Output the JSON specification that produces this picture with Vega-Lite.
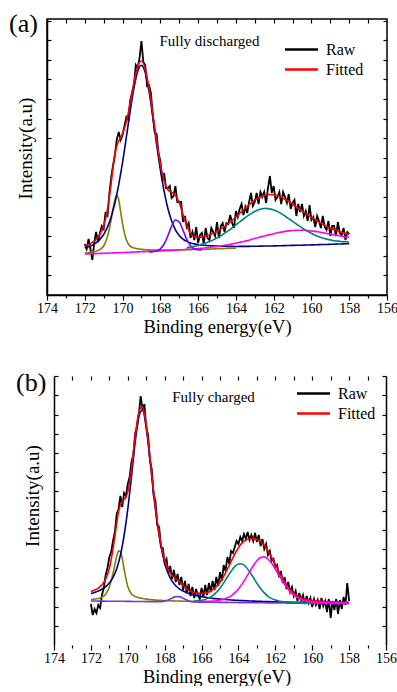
{
"$schema":"https://vega.github.io/schema/vega-lite/v6.json",
"padding":{"left":8,"top":10,"right":0,"bottom":0},
"spacing":32,
"resolve":{"scale":{"color":"independent","strokeWidth":"independent"}},
"config":{"font":"Liberation Serif","view":{"stroke":"black","strokeWidth":1.5},
"axis":{"domainColor":"black","domainWidth":1.5,"tickColor":"black","tickWidth":1.2,"labelColor":"black","titleColor":"black","labelFont":"Liberation Serif","titleFont":"Liberation Serif","titleFontWeight":"normal","grid":false},
"legend":{"labelFont":"Liberation Serif","labelColor":"black"},
"text":{"font":"Liberation Serif"}},
"datasets":{
"rawA":[{"E":172,"I":51},{"E":171.9,"I":46},{"E":171.8,"I":56},{"E":171.7,"I":46},{"E":171.6,"I":35},{"E":171.5,"I":52},{"E":171.4,"I":63},{"E":171.3,"I":53},{"E":171.2,"I":62},{"E":171.1,"I":69},
{"E":171,"I":66},{"E":170.9,"I":83},{"E":170.8,"I":78},{"E":170.7,"I":101},{"E":170.6,"I":118},{"E":170.5,"I":130},{"E":170.4,"I":141},{"E":170.3,"I":156},{"E":170.2,"I":163},{"E":170.1,"I":155},
{"E":170,"I":160},{"E":169.9,"I":169},{"E":169.8,"I":178},{"E":169.7,"I":175},{"E":169.6,"I":194},{"E":169.5,"I":202},{"E":169.4,"I":209},{"E":169.3,"I":230},{"E":169.2,"I":227},{"E":169.1,"I":237},
{"E":169,"I":254},{"E":168.9,"I":233},{"E":168.8,"I":230},{"E":168.7,"I":209},{"E":168.6,"I":210},{"E":168.5,"I":202},{"E":168.4,"I":180},{"E":168.3,"I":163},{"E":168.2,"I":161},{"E":168.1,"I":142},
{"E":168,"I":134},{"E":167.9,"I":115},{"E":167.8,"I":122},{"E":167.7,"I":107},{"E":167.6,"I":107},{"E":167.5,"I":109},{"E":167.4,"I":97},{"E":167.3,"I":99},{"E":167.2,"I":109},{"E":167.1,"I":93},
{"E":167,"I":93},{"E":166.9,"I":93},{"E":166.8,"I":73},{"E":166.7,"I":79},{"E":166.6,"I":68},{"E":166.5,"I":72},{"E":166.4,"I":57},{"E":166.3,"I":63},{"E":166.2,"I":55},{"E":166.1,"I":68},
{"E":166,"I":52},{"E":165.9,"I":60},{"E":165.8,"I":62},{"E":165.7,"I":51},{"E":165.6,"I":67},{"E":165.5,"I":57},{"E":165.4,"I":55},{"E":165.3,"I":67},{"E":165.2,"I":63},{"E":165.1,"I":59},
{"E":165,"I":73},{"E":164.9,"I":57},{"E":164.8,"I":69},{"E":164.7,"I":72},{"E":164.6,"I":63},{"E":164.5,"I":72},{"E":164.4,"I":71},{"E":164.3,"I":80},{"E":164.2,"I":72},{"E":164.1,"I":67},
{"E":164,"I":84},{"E":163.9,"I":78},{"E":163.8,"I":86},{"E":163.7,"I":91},{"E":163.6,"I":80},{"E":163.5,"I":88},{"E":163.4,"I":82},{"E":163.3,"I":93},{"E":163.2,"I":102},{"E":163.1,"I":89},
{"E":163,"I":93},{"E":162.9,"I":102},{"E":162.8,"I":91},{"E":162.7,"I":103},{"E":162.6,"I":98},{"E":162.5,"I":103},{"E":162.4,"I":92},{"E":162.3,"I":107},{"E":162.2,"I":119},{"E":162.1,"I":102},
{"E":162,"I":109},{"E":161.9,"I":95},{"E":161.8,"I":98},{"E":161.7,"I":103},{"E":161.6,"I":91},{"E":161.5,"I":103},{"E":161.4,"I":98},{"E":161.3,"I":92},{"E":161.2,"I":101},{"E":161.1,"I":86},
{"E":161,"I":92},{"E":160.9,"I":95},{"E":160.8,"I":79},{"E":160.7,"I":91},{"E":160.6,"I":83},{"E":160.5,"I":91},{"E":160.4,"I":79},{"E":160.3,"I":84},{"E":160.2,"I":74},{"E":160.1,"I":90},
{"E":160,"I":75},{"E":159.9,"I":78},{"E":159.8,"I":68},{"E":159.7,"I":79},{"E":159.6,"I":74},{"E":159.5,"I":67},{"E":159.4,"I":79},{"E":159.3,"I":68},{"E":159.2,"I":65},{"E":159.1,"I":74},
{"E":159,"I":59},{"E":158.9,"I":69},{"E":158.8,"I":69},{"E":158.7,"I":59},{"E":158.6,"I":73},{"E":158.5,"I":62},{"E":158.4,"I":60},{"E":158.3,"I":67},{"E":158.2,"I":55},{"E":158.1,"I":63},
{"E":158,"I":61}],
"fitA":[
{"E":172,"ol":41.9,"nv":47.1,"mg":41.0,"Fitted":49.1},
{"E":171.8,"ol":42.3,"nv":48.2,"mg":41.1,"Fitted":50.5},
{"E":171.6,"ol":43.0,"nv":49.9,"mg":41.3,"Fitted":52.7},
{"E":171.4,"ol":43.8,"nv":52.2,"mg":41.4,"Fitted":55.8},
{"E":171.2,"ol":45.4,"nv":55.6,"mg":41.6,"Fitted":60.6},
{"E":171,"ol":49.0,"nv":60.5,"mg":41.7,"Fitted":69.0},
{"E":170.8,"ol":58.2,"nv":67.9,"mg":41.9,"Fitted":85.5},
{"E":170.6,"ol":75.7,"nv":78.3,"mg":42.0,"Fitted":112.0},
{"E":170.5,"ol":86.8,"nv":85.1,"mg":42.1,"Fitted":128.0},
{"E":170.4,"ol":95.8,"nv":92.3,"mg":42.1,"Fitted":141.0},
{"E":170.3,"ol":99.9,"nv":101.4,"mg":42.2,"Fitted":149.5},
{"E":170.2,"ol":95.0,"nv":110.6,"mg":42.3,"Fitted":154.0},
{"E":170.1,"ol":83.0,"nv":121.5,"mg":42.3,"Fitted":157.0},
{"E":170,"ol":71.1,"nv":132.6,"mg":42.4,"Fitted":161.5},
{"E":169.8,"ol":55.2,"nv":157.6,"mg":42.6,"Fitted":173.0},
{"E":169.6,"ol":48.9,"nv":183.4,"mg":42.7,"Fitted":191.2},
{"E":169.4,"ol":47.0,"nv":206.7,"mg":42.9,"Fitted":212.5},
{"E":169.2,"ol":46.2,"nv":223.6,"mg":43.1,"Fitted":228.5},
{"E":169,"ol":45.6,"nv":229.8,"mg":43.2,"Fitted":234.0},
{"E":168.8,"ol":45.3,"nv":222.5,"mg":43.4,"Fitted":226.3},
{"E":168.6,"ol":45.1,"nv":203.6,"vi":43.1,"mg":43.6,"Fitted":207.1},
{"E":168.4,"ol":45.0,"nv":178.2,"vi":43.4,"mg":43.8,"Fitted":181.6},
{"E":168.2,"ol":44.9,"nv":150.8,"vi":44.1,"mg":43.9,"Fitted":154.6},
{"E":168,"ol":44.9,"nv":125.3,"vi":46.2,"mg":44.1,"Fitted":131.0},
{"E":167.8,"ol":44.9,"nv":103.6,"vi":51.0,"mg":44.3,"Fitted":114.0},
{"E":167.6,"ol":44.9,"nv":86.5,"vi":59.3,"mg":44.4,"Fitted":105.3},
{"E":167.4,"ol":45.0,"nv":74.0,"vi":69.0,"mg":44.6,"Fitted":102.6},
{"E":167.2,"ol":45.0,"nv":65.2,"vi":75.0,"mg":44.8,"Fitted":99.8},
{"E":167,"ol":45.2,"nv":59.6,"vi":73.0,"mg":45.1,"Fitted":92.3},
{"E":166.8,"ol":45.2,"nv":55.9,"vi":64.8,"mg":45.3,"Fitted":80.5},
{"E":166.6,"ol":45.4,"nv":53.6,"vi":55.6,"te":47.4,"mg":45.6,"Fitted":69.2},
{"E":166.4,"ol":45.4,"nv":52.1,"vi":49.2,"te":47.9,"mg":45.8,"Fitted":61.6},
{"E":166.2,"ol":45.5,"nv":51.1,"vi":46.2,"te":48.7,"mg":46.1,"Fitted":58.4},
{"E":166,"ol":45.6,"nv":50.5,"vi":45.3,"te":49.6,"mg":46.5,"Fitted":57.5},
{"E":165.8,"ol":45.7,"nv":49.9,"vi":45.1,"te":50.7,"mg":46.8,"Fitted":57.8},
{"E":165.6,"ol":45.9,"nv":49.6,"te":52.0,"mg":47.2,"Fitted":58.8},
{"E":165.4,"ol":45.9,"nv":49.3,"te":53.4,"mg":47.6,"Fitted":60.0},
{"E":165.2,"ol":46.1,"nv":49.1,"te":55.1,"mg":48.1,"Fitted":61.6},
{"E":165,"ol":46.2,"nv":48.9,"te":57.1,"mg":48.6,"Fitted":63.7},
{"E":164.8,"ol":46.3,"nv":48.7,"te":59.2,"mg":49.1,"Fitted":65.9},
{"E":164.6,"ol":46.5,"nv":48.7,"te":61.7,"mg":49.7,"Fitted":68.6},
{"E":164.4,"ol":46.6,"nv":48.6,"te":64.3,"mg":50.3,"Fitted":71.5},
{"E":164.2,"ol":46.7,"nv":48.6,"te":67.2,"mg":51.1,"Fitted":74.7},
{"E":164,"ol":46.8,"nv":48.5,"te":70.1,"mg":51.8,"Fitted":78.0},
{"E":163.8,"nv":48.6,"te":73.1,"mg":52.7,"Fitted":81.6},
{"E":163.6,"nv":48.6,"te":76.0,"mg":53.5,"Fitted":85.1},
{"E":163.4,"nv":48.6,"te":78.8,"mg":54.4,"Fitted":88.6},
{"E":163.2,"nv":48.7,"te":81.4,"mg":55.4,"Fitted":91.9},
{"E":163,"nv":48.7,"te":83.5,"mg":56.4,"Fitted":94.8},
{"E":162.8,"nv":48.8,"te":85.2,"mg":57.4,"Fitted":97.2},
{"E":162.6,"nv":48.9,"te":86.2,"mg":58.4,"Fitted":99.1},
{"E":162.4,"nv":49.0,"te":86.6,"mg":59.4,"Fitted":100.2},
{"E":162.2,"nv":49.0,"te":86.1,"mg":60.4,"Fitted":100.5},
{"E":162,"nv":49.1,"te":85.1,"mg":61.2,"Fitted":100.2},
{"E":161.8,"nv":49.2,"te":83.6,"mg":62.2,"Fitted":99.4},
{"E":161.6,"nv":49.3,"te":81.4,"mg":62.9,"Fitted":97.7},
{"E":161.4,"nv":49.4,"te":79.0,"mg":63.6,"Fitted":95.7},
{"E":161.2,"nv":49.5,"te":76.3,"mg":64.1,"Fitted":93.4},
{"E":161,"nv":49.6,"te":73.7,"mg":64.5,"Fitted":90.9},
{"E":160.8,"nv":49.7,"te":71.0,"mg":64.7,"Fitted":88.3},
{"E":160.6,"nv":49.7,"te":68.3,"mg":64.7,"Fitted":85.4},
{"E":160.4,"nv":49.9,"te":65.9,"mg":64.7,"Fitted":82.8},
{"E":160.2,"nv":50.0,"te":63.6,"mg":64.4,"Fitted":80.1},
{"E":160,"nv":50.1,"te":61.7,"mg":64.1,"Fitted":77.6},
{"E":159.8,"nv":50.2,"te":59.8,"mg":63.6,"Fitted":75.1},
{"E":159.6,"nv":50.4,"te":58.3,"mg":63.0,"Fitted":72.8},
{"E":159.4,"nv":50.5,"te":57.0,"mg":62.4,"Fitted":70.8},
{"E":159.2,"nv":50.5,"te":55.9,"mg":61.6,"Fitted":68.7},
{"E":159,"nv":50.7,"te":55.1,"mg":61.0,"Fitted":67.1},
{"E":158.8,"nv":50.8,"te":54.3,"mg":60.2,"Fitted":65.4},
{"E":158.6,"nv":51.0,"te":53.9,"mg":59.6,"Fitted":64.2},
{"E":158.4,"nv":51.0,"te":53.4,"mg":58.8,"Fitted":62.7},
{"E":158.2,"nv":51.2,"te":53.2,"mg":58.2,"Fitted":61.7},
{"E":158,"nv":51.3,"te":53.0,"mg":57.5,"Fitted":60.7}],
"rawB":[{"E":172,"I":41},{"E":171.9,"I":30},{"E":171.8,"I":36},{"E":171.7,"I":32},{"E":171.6,"I":40},{"E":171.5,"I":37},{"E":171.4,"I":50},{"E":171.3,"I":57},{"E":171.2,"I":70},{"E":171.1,"I":77},
{"E":171,"I":88},{"E":170.9,"I":93},{"E":170.8,"I":104},{"E":170.7,"I":113},{"E":170.6,"I":131},{"E":170.5,"I":136},{"E":170.4,"I":149},{"E":170.3,"I":138},{"E":170.2,"I":152},{"E":170.1,"I":149},
{"E":170,"I":161},{"E":169.9,"I":168},{"E":169.8,"I":183},{"E":169.7,"I":190},{"E":169.6,"I":212},{"E":169.5,"I":218},{"E":169.4,"I":231},{"E":169.3,"I":249},{"E":169.2,"I":235},{"E":169.1,"I":241},
{"E":169,"I":218},{"E":168.9,"I":210},{"E":168.8,"I":185},{"E":168.7,"I":176},{"E":168.6,"I":150},{"E":168.5,"I":144},{"E":168.4,"I":120},{"E":168.3,"I":118},{"E":168.2,"I":98},{"E":168.1,"I":97},
{"E":168,"I":82},{"E":167.9,"I":86},{"E":167.8,"I":72},{"E":167.7,"I":79},{"E":167.6,"I":66},{"E":167.5,"I":75},{"E":167.4,"I":63},{"E":167.3,"I":71},{"E":167.2,"I":60},{"E":167.1,"I":68},
{"E":167,"I":55},{"E":166.9,"I":64},{"E":166.8,"I":52},{"E":166.7,"I":61},{"E":166.6,"I":49},{"E":166.5,"I":58},{"E":166.4,"I":47},{"E":166.3,"I":56},{"E":166.2,"I":50},{"E":166.1,"I":46},
{"E":166,"I":57},{"E":165.9,"I":48},{"E":165.8,"I":60},{"E":165.7,"I":50},{"E":165.6,"I":62},{"E":165.5,"I":53},{"E":165.4,"I":64},{"E":165.3,"I":55},{"E":165.2,"I":68},{"E":165.1,"I":59},
{"E":165,"I":73},{"E":164.9,"I":64},{"E":164.8,"I":80},{"E":164.7,"I":74},{"E":164.6,"I":88},{"E":164.5,"I":81},{"E":164.4,"I":94},{"E":164.3,"I":92},{"E":164.2,"I":98},{"E":164.1,"I":104},
{"E":164,"I":101},{"E":163.9,"I":108},{"E":163.8,"I":104},{"E":163.7,"I":111},{"E":163.6,"I":106},{"E":163.5,"I":113},{"E":163.4,"I":105},{"E":163.3,"I":110},{"E":163.2,"I":104},{"E":163.1,"I":112},
{"E":163,"I":103},{"E":162.9,"I":110},{"E":162.8,"I":99},{"E":162.7,"I":106},{"E":162.6,"I":96},{"E":162.5,"I":101},{"E":162.4,"I":90},{"E":162.3,"I":94},{"E":162.2,"I":84},{"E":162.1,"I":86},
{"E":162,"I":78},{"E":161.9,"I":80},{"E":161.8,"I":68},{"E":161.7,"I":74},{"E":161.6,"I":62},{"E":161.5,"I":68},{"E":161.4,"I":56},{"E":161.3,"I":63},{"E":161.2,"I":53},{"E":161.1,"I":58},
{"E":161,"I":49},{"E":160.9,"I":54},{"E":160.8,"I":44},{"E":160.7,"I":52},{"E":160.6,"I":45},{"E":160.5,"I":50},{"E":160.4,"I":41},{"E":160.3,"I":49},{"E":160.2,"I":42},{"E":160.1,"I":47},
{"E":160,"I":38},{"E":159.9,"I":46},{"E":159.8,"I":40},{"E":159.7,"I":45},{"E":159.6,"I":36},{"E":159.5,"I":47},{"E":159.4,"I":39},{"E":159.3,"I":44},{"E":159.2,"I":33},{"E":159.1,"I":46},
{"E":159,"I":27},{"E":158.9,"I":44},{"E":158.8,"I":35},{"E":158.7,"I":46},{"E":158.6,"I":31},{"E":158.5,"I":45},{"E":158.4,"I":36},{"E":158.3,"I":48},{"E":158.2,"I":40},{"E":158.1,"I":62},
{"E":158,"I":44}],
"fitB":[
{"E":172,"ol":45.5,"nv":51.5,"vi":44.0,"Fitted":53.5},
{"E":171.8,"ol":45.9,"nv":52.6,"vi":44.0,"Fitted":55.0},
{"E":171.6,"ol":46.4,"nv":53.9,"vi":43.9,"Fitted":56.9},
{"E":171.4,"ol":47.8,"nv":55.8,"vi":43.9,"Fitted":60.2},
{"E":171.2,"ol":50.8,"nv":58.3,"vi":43.8,"Fitted":65.8},
{"E":171,"ol":58.0,"nv":62.0,"vi":43.8,"Fitted":76.7},
{"E":170.8,"ol":71.7,"nv":67.7,"vi":43.8,"Fitted":96.1},
{"E":170.6,"ol":88.6,"nv":76.3,"vi":43.7,"Fitted":121.8},
{"E":170.5,"ol":93.9,"nv":82.5,"vi":43.7,"Fitted":133.3},
{"E":170.4,"ol":93.7,"nv":89.9,"vi":43.7,"Fitted":140.0},
{"E":170.3,"ol":86.5,"nv":98.9,"vi":43.7,"Fitted":143.0},
{"E":170.2,"ol":76.2,"nv":109.5,"vi":43.7,"Fitted":145.5},
{"E":170,"ol":58.6,"nv":135.8,"vi":43.6,"Fitted":153.0},
{"E":169.8,"ol":51.1,"nv":168.3,"vi":43.6,"Fitted":176.4},
{"E":169.6,"ol":48.5,"nv":202.3,"vi":43.5,"Fitted":207.9},
{"E":169.4,"ol":47.3,"nv":228.6,"vi":43.5,"Fitted":233.0},
{"E":169.2,"ol":46.5,"nv":234.7,"vi":43.5,"Fitted":238.3},
{"E":169,"ol":45.9,"nv":217.1,"vi":43.4,"Fitted":220.3},
{"E":168.8,"ol":45.5,"nv":185.4,"vi":43.4,"Fitted":188.2},
{"E":168.6,"ol":45.1,"nv":151.2,"vi":43.3,"Fitted":153.7},
{"E":168.4,"ol":44.8,"nv":121.4,"vi":43.3,"Fitted":123.6},
{"E":168.2,"ol":44.6,"nv":98.5,"vi":43.4,"Fitted":100.7},
{"E":168,"ol":44.4,"nv":82.0,"vi":43.9,"Fitted":84.7},
{"E":167.8,"ol":44.3,"nv":71.0,"vi":45.1,"Fitted":74.8},
{"E":167.6,"ol":44.1,"nv":63.9,"vi":46.8,"Fitted":69.5},
{"E":167.4,"ol":44.0,"nv":59.3,"vi":48.4,"Fitted":66.5},
{"E":167.2,"ol":44.0,"nv":56.2,"vi":48.4,"Fitted":63.4},
{"E":167,"ol":43.8,"nv":54.0,"vi":46.7,"Fitted":59.6},
{"E":166.8,"ol":43.8,"nv":52.3,"vi":44.9,"Fitted":56.2},
{"E":166.6,"ol":43.7,"nv":50.9,"vi":43.6,"Fitted":53.7},
{"E":166.4,"ol":43.6,"nv":49.9,"vi":43.0,"te":43.9,"Fitted":52.3},
{"E":166.2,"ol":43.5,"nv":49.1,"vi":42.9,"te":44.3,"Fitted":51.9},
{"E":166,"ol":43.4,"nv":48.3,"vi":42.8,"te":44.7,"mg":43.6,"Fitted":51.6},
{"E":165.8,"nv":47.7,"vi":42.8,"te":45.6,"mg":43.7,"Fitted":52.0},
{"E":165.6,"nv":47.2,"vi":42.8,"te":47.1,"mg":43.8,"Fitted":53.1},
{"E":165.4,"nv":46.6,"vi":42.7,"te":49.3,"mg":44.0,"Fitted":55.1},
{"E":165.2,"nv":46.3,"vi":42.7,"te":52.6,"mg":44.3,"Fitted":58.4},
{"E":165,"nv":45.9,"vi":42.6,"te":56.8,"mg":44.8,"Fitted":62.8},
{"E":164.8,"nv":45.6,"vi":42.6,"te":62.1,"mg":45.7,"Fitted":68.7},
{"E":164.6,"nv":45.3,"vi":42.6,"te":68.0,"mg":47.2,"Fitted":75.8},
{"E":164.4,"nv":45.0,"vi":42.5,"te":73.6,"mg":49.2,"Fitted":83.3},
{"E":164.2,"nv":44.8,"vi":42.5,"te":78.4,"mg":52.2,"Fitted":90.9},
{"E":164,"nv":44.6,"vi":42.4,"te":81.0,"mg":56.1,"Fitted":97.3},
{"E":163.8,"nv":44.4,"vi":42.4,"te":81.0,"mg":61.1,"Fitted":102.1},
{"E":163.6,"nv":44.3,"vi":42.4,"te":78.3,"mg":66.9,"Fitted":105.1},
{"E":163.4,"nv":44.0,"vi":42.3,"te":73.4,"mg":73.1,"Fitted":106.3},
{"E":163.2,"nv":43.9,"vi":42.3,"te":67.7,"mg":79.2,"Fitted":106.6},
{"E":163,"nv":43.8,"vi":42.3,"te":61.8,"mg":84.3,"Fitted":105.7},
{"E":162.8,"nv":43.6,"vi":42.2,"te":56.4,"mg":87.4,"Fitted":103.4},
{"E":162.6,"nv":43.5,"vi":42.2,"te":52.1,"mg":88.1,"Fitted":99.7},
{"E":162.4,"nv":43.4,"vi":42.1,"te":48.7,"mg":86.0,"Fitted":94.2},
{"E":162.2,"nv":43.3,"vi":42.1,"te":46.4,"mg":81.7,"Fitted":87.6},
{"E":162,"nv":43.2,"vi":42.1,"te":44.9,"mg":76.0,"Fitted":80.3},
{"E":161.8,"nv":43.1,"vi":42.0,"te":43.9,"mg":69.6,"Fitted":72.9},
{"E":161.6,"nv":43.0,"vi":42.0,"te":43.4,"mg":63.5,"Fitted":66.2},
{"E":161.4,"nv":42.9,"vi":41.9,"te":42.9,"mg":57.9,"Fitted":60.2},
{"E":161.2,"nv":42.8,"vi":41.9,"te":42.7,"mg":53.4,"Fitted":55.4},
{"E":161,"nv":42.8,"vi":41.9,"te":42.5,"mg":49.9,"Fitted":51.7},
{"E":160.8,"nv":42.6,"vi":41.8,"te":42.3,"mg":47.3,"Fitted":48.9},
{"E":160.6,"nv":42.6,"vi":41.8,"te":42.3,"mg":45.6,"Fitted":47.1},
{"E":160.4,"nv":42.6,"vi":41.8,"te":42.3,"mg":44.4,"Fitted":45.9},
{"E":160.2,"nv":42.4,"vi":41.7,"te":42.2,"mg":43.6,"Fitted":45.0},
{"E":160,"nv":42.4,"vi":41.7,"te":42.2,"mg":43.1,"Fitted":44.5},
{"E":159.8,"nv":42.3,"vi":41.6,"mg":42.8,"Fitted":44.1},
{"E":159.6,"nv":42.3,"vi":41.6,"mg":42.6,"Fitted":43.9},
{"E":159.4,"nv":42.1,"vi":41.5,"mg":42.4,"Fitted":43.6},
{"E":159.2,"nv":42.1,"vi":41.5,"mg":42.3,"Fitted":43.5},
{"E":159,"nv":42.1,"vi":41.5,"mg":42.3,"Fitted":43.4},
{"E":158.8,"nv":42.0,"vi":41.4,"mg":42.1,"Fitted":43.2},
{"E":158.6,"nv":41.9,"vi":41.4,"mg":42.1,"Fitted":43.1},
{"E":158.4,"nv":41.9,"vi":41.4,"mg":42.0,"Fitted":43.0},
{"E":158.2,"nv":41.8,"vi":41.3,"mg":41.9,"Fitted":42.9},
{"E":158,"nv":41.8,"vi":41.3,"mg":41.8,"Fitted":42.8}]
},
"vconcat":[
{
"width":340,"height":276,
"layer":[
{"data":{"name":"rawA"},"mark":{"type":"line","strokeWidth":1.8},
"encoding":{
"x":{"field":"E","type":"quantitative","scale":{"domain":[156,174],"reverse":true,"nice":false,"zero":false},
"axis":{"orient":"bottom","values":[156,158,160,162,164,166,168,170,172,174],"format":"d","tickSize":5,"labelFontSize":14,"labelPadding":1,"labelFlush":false,"labelOverlap":false,"title":"Binding energy(eV)","titleFontSize":18.5,"titlePadding":2}},
"y":{"field":"I","type":"quantitative","scale":{"domain":[0,276],"nice":false,"zero":false},
"axis":{"orient":"left","values":[19.6,39.2,58.8,78.4,98,117.6,137.2,156.8,176.4,196,215.6,235.2,254.8,274.4],"tickSize":-4,"labels":false,"title":null}},
"color":{"datum":"Raw","scale":{"domain":["Raw","Fitted","ol","nv","vi","te","mg"],"range":["#000000","#ff0000","#808000","#000080","#8000ff","#008080","#ff00ff"]},
"legend":{"values":["Raw","Fitted"],"orient":"none","legendX":245,"legendY":21,"title":null,"symbolType":"M-2,0H2","symbolSize":272,"symbolStrokeWidth":2.5,"labelFontSize":16,"rowPadding":2,"labelOffset":15,"padding":0}}
}},
{"data":{"name":"fitA"},"transform":[{"fold":["ol","nv","vi","te","mg","Fitted"],"as":["s","I"]},{"filter":"datum.I != null"}],
"mark":{"type":"line","interpolate":"monotone"},
"encoding":{
"x":{"field":"E","type":"quantitative","axis":{"orient":"bottom","values":[157,159,161,163,165,167,169,171,173],"tickSize":3,"labels":false,"domain":false,"title":null}},
"y":{"field":"I","type":"quantitative","axis":{"orient":"right","values":[19.6,39.2,58.8,78.4,98,117.6,137.2,156.8,176.4,196,215.6,235.2,254.8,274.4],"tickSize":-4,"labels":false,"domain":false,"title":null}},
"color":{"field":"s","type":"nominal","scale":{"domain":["Raw","Fitted","ol","nv","vi","te","mg"],"range":["#000000","#ff0000","#808000","#000080","#8000ff","#008080","#ff00ff"]},
"legend":{"values":["Raw","Fitted"],"orient":"none","legendX":245,"legendY":21,"title":null,"symbolType":"M-2,0H2","symbolSize":272,"symbolStrokeWidth":2.5,"labelFontSize":16,"rowPadding":2,"labelOffset":15,"padding":0}},
"strokeWidth":{"field":"s","type":"nominal","scale":{"domain":["ol","nv","vi","te","mg","Fitted"],"range":[1.6,1.6,1.6,1.6,1.6,2.2]},"legend":null}
}},
{"data":{"values":[{"E":165.4,"I":254,"t":"Fully discharged"}]},
"mark":{"type":"text","fontSize":15,"align":"center","baseline":"middle","font":"Liberation Serif","color":"black"},
"encoding":{
"x":{"field":"E","type":"quantitative","axis":{"orient":"top","values":[157,158,159,160,161,162,163,164,165,166,167,168,169,170,171,172,173],"tickSize":-4,"labels":false,"domain":false,"title":null}},
"y":{"field":"I","type":"quantitative","axis":null},
"text":{"field":"t"}}},
{"data":{"values":[{"E":175.11,"I":146.5,"t":"Intensity(a.u)"}]},
"mark":{"type":"text","fontSize":19,"angle":270,"align":"center","baseline":"middle","font":"Liberation Serif","color":"black"},
"encoding":{
"x":{"field":"E","type":"quantitative","axis":null},
"y":{"field":"I","type":"quantitative","axis":null},
"text":{"field":"t"}}},
{"data":{"values":[{"E":176.01,"I":271,"t":"(a)"}]},
"mark":{"type":"text","fontSize":26,"align":"left","baseline":"middle","font":"Liberation Serif","color":"black"},
"encoding":{
"x":{"field":"E","type":"quantitative","axis":null},
"y":{"field":"I","type":"quantitative","axis":null},
"text":{"field":"t"}}}
],
"resolve":{"axis":{"x":"independent","y":"independent"}}
},
{
"width":339,"height":269,
"view":{"stroke":null},
"layer":[
{"data":{"name":"rawB"},"mark":{"type":"line","strokeWidth":1.8},
"encoding":{
"x":{"field":"E","type":"quantitative","scale":{"domain":[156,174.38],"reverse":true,"nice":false,"zero":false},
"axis":{"orient":"bottom","values":[156,158,160,162,164,166,168,170,172,174],"format":"d","tickSize":5,"labelFontSize":14,"labelPadding":1,"labelFlush":false,"labelOverlap":false,"domain":false,"title":"Binding energy(eV)","titleFontSize":18.5,"titlePadding":2}},
"y":{"field":"I","type":"quantitative","scale":{"domain":[0,269],"nice":false,"zero":false},
"axis":{"orient":"left","offset":-7,"values":[19.2,38.4,57.6,76.8,96,115.2,134.4,153.6,172.8,192,211.2,230.4,249.6,268.8],"tickSize":-4,"labels":false,"title":null}},
"color":{"datum":"Raw","scale":{"domain":["Raw","Fitted","ol","nv","vi","te","mg"],"range":["#000000","#ff0000","#808000","#000080","#8030e0","#008080","#ff00ff"]},
"legend":{"values":["Raw","Fitted"],"orient":"none","legendX":257,"legendY":8,"title":null,"symbolType":"M-2,0H2","symbolSize":272,"symbolStrokeWidth":2.5,"labelFontSize":16,"rowPadding":2,"labelOffset":15,"padding":0}}
}},
{"data":{"name":"fitB"},"transform":[{"fold":["ol","nv","te","mg","vi","Fitted"],"as":["s","I"]},{"filter":"datum.I != null"}],
"mark":{"type":"line","interpolate":"monotone"},
"encoding":{
"x":{"field":"E","type":"quantitative","axis":{"orient":"bottom","values":[157,159,161,163,165,167,169,171,173],"tickSize":3,"labels":false,"domain":false,"title":null}},
"y":{"field":"I","type":"quantitative","axis":{"orient":"right","values":[19.2,38.4,57.6,76.8,96,115.2,134.4,153.6,172.8,192,211.2,230.4,249.6,268.8],"tickSize":-4,"labels":false,"domain":true,"title":null}},
"color":{"field":"s","type":"nominal","scale":{"domain":["Raw","Fitted","ol","nv","vi","te","mg"],"range":["#000000","#ff0000","#808000","#000080","#8030e0","#008080","#ff00ff"]},
"legend":{"values":["Raw","Fitted"],"orient":"none","legendX":257,"legendY":8,"title":null,"symbolType":"M-2,0H2","symbolSize":272,"symbolStrokeWidth":2.5,"labelFontSize":16,"rowPadding":2,"labelOffset":15,"padding":0}},
"strokeWidth":{"field":"s","type":"nominal","scale":{"domain":["ol","nv","vi","te","mg","Fitted"],"range":[1.6,1.6,2,1.6,1.6,2.2]},"legend":null}
}},
{"mark":{"type":"rule","color":"black","strokeWidth":1.5},
"encoding":{"x":{"datum":174,"type":"quantitative","axis":null},"x2":{"datum":156},"y":{"datum":0,"type":"quantitative","axis":null}}},
{"mark":{"type":"rule","color":"black","strokeWidth":1.5},
"encoding":{"x":{"datum":174,"type":"quantitative","axis":null},"x2":{"datum":156},"y":{"datum":269,"type":"quantitative","axis":null}}},
{"data":{"values":[{"E":165.35,"I":248,"t":"Fully charged"}]},
"mark":{"type":"text","fontSize":15,"align":"center","baseline":"middle","font":"Liberation Serif","color":"black"},
"encoding":{
"x":{"field":"E","type":"quantitative","axis":{"orient":"top","values":[157,158,159,160,161,162,163,164,165,166,167,168,169,170,171,172,173],"tickSize":-4,"labels":false,"domain":false,"title":null}},
"y":{"field":"I","type":"quantitative","axis":null},
"text":{"field":"t"}}},
{"data":{"values":[{"E":175.16,"I":149,"t":"Intensity(a.u)"}]},
"mark":{"type":"text","fontSize":19,"angle":270,"align":"center","baseline":"middle","font":"Liberation Serif","color":"black"},
"encoding":{
"x":{"field":"E","type":"quantitative","axis":null},
"y":{"field":"I","type":"quantitative","axis":null},
"text":{"field":"t"}}},
{"data":{"values":[{"E":176.06,"I":262,"t":"(b)"}]},
"mark":{"type":"text","fontSize":26,"align":"left","baseline":"middle","font":"Liberation Serif","color":"black"},
"encoding":{
"x":{"field":"E","type":"quantitative","axis":null},
"y":{"field":"I","type":"quantitative","axis":null},
"text":{"field":"t"}}}
],
"resolve":{"axis":{"x":"independent","y":"independent"}}
}
]
}
